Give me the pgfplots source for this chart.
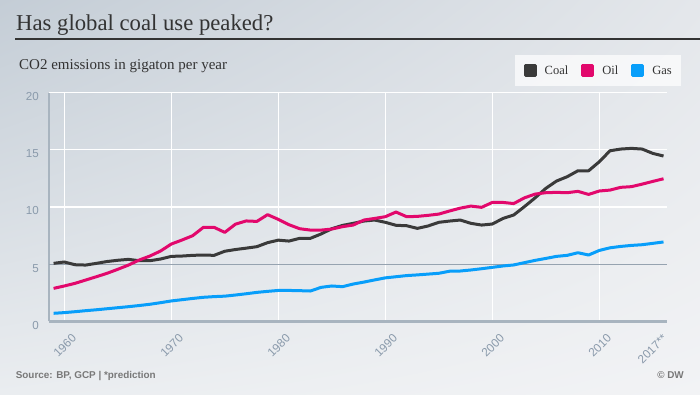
\documentclass[border=0pt]{standalone}
\usepackage{pgfplots}
\pgfplotsset{compat=1.18}
\usepackage{pgfplotstable}
\usetikzlibrary{shadings}
\usepackage{fontspec}
\setmainfont{Liberation Serif}
\newfontfamily\sansf{Liberation Sans}

\definecolor{coalc}{RGB}{58,58,58}
\definecolor{oilc}{RGB}{226,8,108}
\definecolor{gasc}{RGB}{8,158,250}
\definecolor{tickc}{RGB}{138,154,171}
\definecolor{axc}{RGB}{168,180,191}
\definecolor{fivec}{RGB}{150,163,176}
\definecolor{titc}{RGB}{51,51,51}
\definecolor{footc}{RGB}{120,120,120}
\definecolor{bgul}{RGB}{196,205,214}
\definecolor{bgur}{RGB}{228,231,235}
\definecolor{bgll}{RGB}{234,237,240}
\definecolor{bglr}{RGB}{242,243,245}

\pgfplotstableread{
year coal oil gas
1959 5.07 2.88 0.70
1960 5.19 3.09 0.76
1961 4.95 3.32 0.84
1962 4.92 3.61 0.93
1963 5.07 3.90 1.01
1964 5.23 4.20 1.10
1965 5.34 4.55 1.19
1966 5.42 4.92 1.28
1967 5.30 5.36 1.38
1968 5.30 5.71 1.49
1969 5.45 6.15 1.63
1970 5.68 6.76 1.78
1971 5.71 7.11 1.89
1972 5.77 7.49 2.00
1973 5.80 8.22 2.10
1974 5.77 8.22 2.16
1975 6.13 7.78 2.20
1976 6.28 8.50 2.30
1977 6.40 8.78 2.41
1978 6.53 8.74 2.53
1979 6.88 9.33 2.62
1980 7.10 8.92 2.70
1981 7.02 8.45 2.70
1982 7.26 8.10 2.68
1983 7.26 7.98 2.65
1984 7.64 7.98 2.97
1985 8.10 8.07 3.09
1986 8.39 8.28 3.03
1987 8.57 8.42 3.26
1988 8.77 8.86 3.43
1989 8.86 9.00 3.62
1990 8.66 9.15 3.80
1991 8.40 9.56 3.90
1992 8.36 9.15 4.00
1993 8.13 9.18 4.06
1994 8.34 9.27 4.13
1995 8.66 9.38 4.20
1996 8.77 9.65 4.38
1997 8.86 9.90 4.40
1998 8.57 10.08 4.49
1999 8.42 9.97 4.60
2000 8.51 10.40 4.72
2001 9.00 10.40 4.84
2002 9.30 10.30 4.93
2003 10.03 10.80 5.13
2004 10.80 11.13 5.33
2005 11.63 11.25 5.50
2006 12.27 11.28 5.68
2007 12.65 11.25 5.77
2008 13.17 11.37 6.00
2009 13.17 11.10 5.80
2010 13.96 11.40 6.20
2011 14.92 11.48 6.43
2012 15.07 11.72 6.55
2013 15.13 11.78 6.64
2014 15.07 12.00 6.70
2015 14.69 12.24 6.82
2016 14.46 12.47 6.94
}\data

\begin{document}
\begin{tikzpicture}[x=1bp,y=1bp]
\shade[upper left=bgul, upper right=bgur, lower left=bgll, lower right=bglr]
  (0,0) rectangle (700,394);
\node[anchor=base west, inner sep=0pt, text=titc,
      font=\fontsize{22.7bp}{26bp}\selectfont] at (16,364) {Has global coal use peaked?};
\draw[titc, line width=1.2bp] (15,355) -- (700,355);
\node[anchor=base west, inner sep=0pt, text=titc,
      font=\fontsize{15bp}{18bp}\selectfont] at (19,325) {CO2 emissions in gigaton per year};
\node[anchor=base west, inner sep=0pt, text=footc,
      font=\sansf\bfseries\fontsize{9.9bp}{12bp}\selectfont] at (15.6,15.5) {Source: BP, GCP | *prediction};
\node[anchor=base east, inner sep=0pt, text=footc,
      font=\sansf\bfseries\fontsize{9.9bp}{12bp}\selectfont] at (684,15.5) {© DW};

\begin{axis}[
  at={(49.3bp,72.7bp)}, anchor=south west,
  scale only axis, width=617.4bp, height=228.6bp,
  xmin=1958.6, xmax=2016.3, ymin=0, ymax=20,
  axis lines*=left,
  x axis line style={axc, line width=2.5bp},
  y axis line style={axc, line width=2bp},
  xtick={1960,1970,1980,1990,2000,2010},
  extra x ticks={2015.2},
  extra x tick labels={2017**},
  extra x tick style={xmajorgrids=false},
  ytick={0,10,15,20},
  extra y ticks={5},
  extra y tick style={ymajorgrids=true, major grid style={fivec, line width=1.3bp}},
  grid=major,
  major grid style={white, line width=1.2bp},
  major tick length=0pt,
  /pgf/number format/assume math mode=true,
  /pgf/number format/1000 sep={},
  xticklabel style={font=\sansf\fontsize{11.8bp}{12bp}\selectfont, text=tickc,
     inner sep=0pt, anchor=east, xshift=10bp, yshift=-15bp, rotate=45},
  yticklabel style={font=\sansf\fontsize{11.6bp}{12bp}\selectfont, text=tickc,
     inner sep=0pt, anchor=east, xshift=-10.3bp, yshift=-4bp},
  legend columns=3,
  legend style={at={(1.023,1.165)}, anchor=north east, draw=none,
     fill=white, fill opacity=0.7, text opacity=1,
     inner xsep=9bp, inner ysep=9bp,
     font=\fontsize{12.5bp}{14bp}\selectfont, text=titc,
     nodes={inner sep=0pt},
     /tikz/every odd column/.append style={column sep=8bp},
     /tikz/every even column/.append style={column sep=13bp}},
  legend image code/.code={\fill[#1, fill opacity=1] (0bp,-5bp) rectangle (10bp,5bp);},
]
\addplot[coalc, line width=3bp, line join=round] table[x=year, y=coal] {\data};
\addlegendentry{Coal}
\addplot[oilc, line width=3bp, line join=round] table[x=year, y=oil] {\data};
\addlegendentry{Oil}
\addplot[gasc, line width=3bp, line join=round] table[x=year, y=gas] {\data};
\addlegendentry{Gas}
\end{axis}
\pgfresetboundingbox
\useasboundingbox (0,0) rectangle (700,394);
\end{tikzpicture}
\end{document}
